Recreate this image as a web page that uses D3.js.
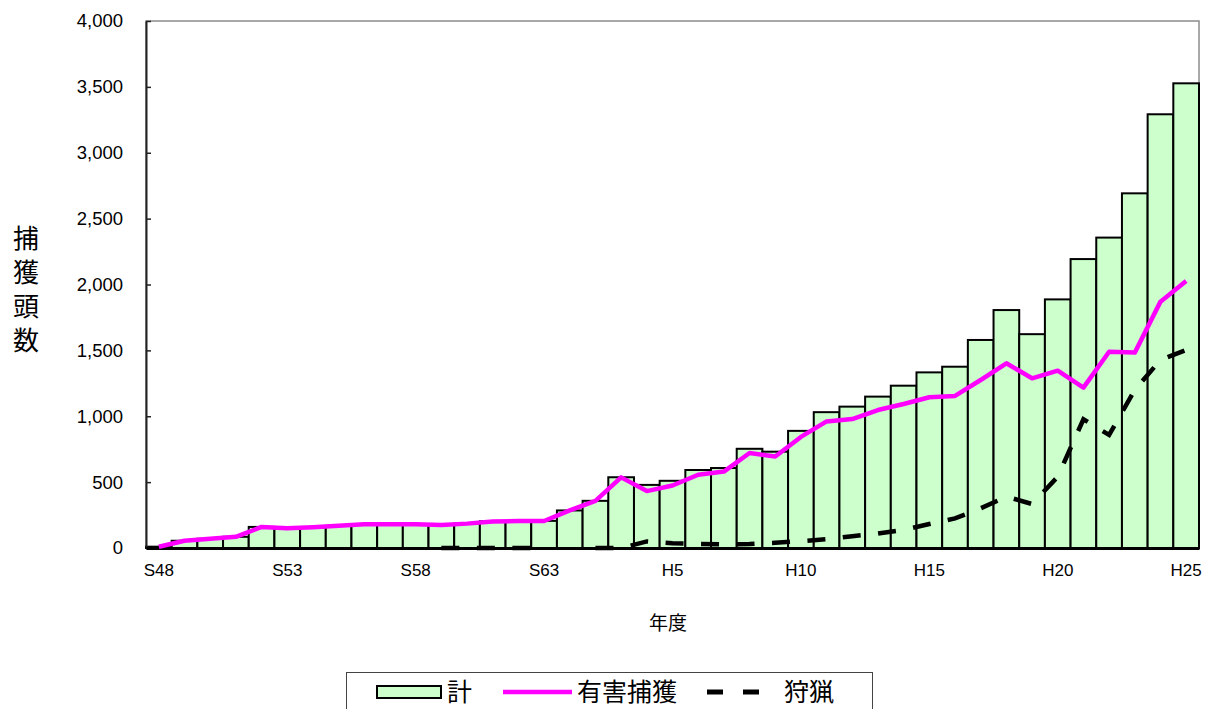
<!DOCTYPE html>
<html>
<head>
<meta charset="utf-8">
<script src="https://cdn.jsdelivr.net/npm/d3@7"></script>
<style>
  html, body { margin: 0; padding: 0; background: #fff; overflow: hidden; }
  svg { display: block; }
</style>
</head>
<body>
<svg id="chart" width="1205" height="709"></svg>
<script>
// Fiscal years, Showa 48 through Heisei 25
const years = [
  "S48","S49","S50","S51","S52","S53","S54","S55","S56","S57","S58","S59","S60","S61","S62","S63",
  "H1","H2","H3","H4","H5","H6","H7","H8","H9","H10","H11","H12","H13","H14","H15","H16","H17",
  "H18","H19","H20","H21","H22","H23","H24","H25"
];

// 計 (total)
const totalCatch = [
  10, 55, 70, 85, 160, 150, 157, 168, 180, 181, 180, 175, 186, 203, 205, 206, 285, 358, 537, 479,
  510, 592, 607, 753, 731, 889, 1031, 1073, 1149, 1232, 1333, 1376, 1579, 1806, 1623, 1887, 2193,
  2356, 2692, 3292, 3527
];

// 有害捕獲 (nuisance control)
const nuisanceCatch = [
  10, 55, 70, 85, 160, 150, 157, 168, 180, 181, 180, 174, 185, 202, 204, 205, 285, 358, 536, 432,
  474, 556, 580, 721, 694, 843, 961, 979, 1047, 1093, 1144, 1154, 1275, 1402, 1288, 1346, 1217,
  1490, 1483, 1870, 2027
];

// 狩猟 (hunting); null = no record
const huntingCatch = [
  null, null, null, null, null, null, null, null, null, null, null,
  0, 0, 0, 0, 0, null, 0, 0, 50,
  36, 31, 28, 30, 40, 52, 67, 90, 110, 137, 182, 225, 301, 390, 334, 541, 977,
  858, 1200, 1427, 1503
];

const tickYears = ["S48", "S53", "S58", "S63", "H5", "H10", "H15", "H20", "H25"];
const yTicks = [0, 500, 1000, 1500, 2000, 2500, 3000, 3500, 4000];

const LATIN = "'Liberation Sans', Arial, sans-serif";
const CJK = "'Noto Sans CJK JP', 'Noto Sans CJK SC', sans-serif";

const svg = d3.select("#chart");

const plot = { left: 146, right: 1199, top: 21, bottom: 548 };

const x = d3.scaleBand()
  .domain(years)
  .range([plot.left, plot.right])
  .paddingInner(0)
  .paddingOuter(0);

const y = d3.scaleLinear()
  .domain([0, 4000])
  .range([plot.bottom, plot.top]);

const cx = d => x(d) + x.bandwidth() / 2;

// plot frame
svg.append("rect")
  .attr("x", plot.left)
  .attr("y", plot.top)
  .attr("width", plot.right - plot.left)
  .attr("height", plot.bottom - plot.top)
  .attr("fill", "none")
  .attr("stroke", "#8c8c8c")
  .attr("stroke-width", 1.5);

// total bars
svg.append("g")
  .selectAll("rect")
  .data(years)
  .join("rect")
  .attr("x", d => x(d))
  .attr("width", x.bandwidth())
  .attr("y", (d, i) => y(totalCatch[i]))
  .attr("height", (d, i) => y(0) - y(totalCatch[i]))
  .attr("fill", "#CCFFCC")
  .attr("stroke", "#000")
  .attr("stroke-width", 2);

// y axis (ticks pointing inward)
const yAxis = svg.append("g")
  .attr("transform", `translate(${plot.left},0)`)
  .call(d3.axisLeft(y)
    .tickValues(yTicks)
    .tickSizeInner(-5)
    .tickSizeOuter(0)
    .tickPadding(23)
    .tickFormat(d3.format(",")));
yAxis.select(".domain").attr("stroke", "#222").attr("stroke-width", 2);
yAxis.selectAll(".tick line").attr("stroke", "#222").attr("stroke-width", 1.5);
yAxis.selectAll("text")
  .attr("font-family", LATIN)
  .attr("font-size", 18.5)
  .attr("fill", "#000");

// x axis
const xAxis = svg.append("g")
  .attr("transform", `translate(0,${plot.bottom})`)
  .call(d3.axisBottom(x)
    .tickValues(tickYears)
    .tickSize(0)
    .tickPadding(16));
xAxis.select(".domain").attr("stroke", "#000").attr("stroke-width", 3);
xAxis.selectAll("text")
  .attr("font-family", LATIN)
  .attr("font-size", 17)
  .attr("fill", "#000");

// hunting (dashed)
const huntLine = d3.line()
  .defined(d => d.v != null)
  .x(d => cx(d.year))
  .y(d => y(d.v));
svg.append("path")
  .datum(years.map((yr, i) => ({ year: yr, v: huntingCatch[i] })))
  .attr("d", huntLine)
  .attr("fill", "none")
  .attr("stroke", "#000")
  .attr("stroke-width", 4.5)
  .attr("stroke-dasharray", "18,17.5");

// nuisance control (magenta)
const nuisLine = d3.line()
  .x(d => cx(d.year))
  .y(d => y(d.v));
svg.append("path")
  .datum(years.map((yr, i) => ({ year: yr, v: nuisanceCatch[i] })))
  .attr("d", nuisLine)
  .attr("fill", "none")
  .attr("stroke", "#FF00FF")
  .attr("stroke-width", 4.5)
  .attr("stroke-linejoin", "round");

// axis titles
const yTitle = ["捕", "獲", "頭", "数"];
svg.append("g")
  .selectAll("text")
  .data(yTitle)
  .join("text")
  .attr("x", 26)
  .attr("y", (d, i) => 248 + i * 34)
  .attr("text-anchor", "middle")
  .attr("font-family", CJK)
  .attr("font-size", 26)
  .attr("fill", "#000")
  .text(d => d);

svg.append("text")
  .attr("x", 668)
  .attr("y", 630)
  .attr("text-anchor", "middle")
  .attr("font-family", CJK)
  .attr("font-size", 19)
  .attr("fill", "#000")
  .text("年度");

// legend
const legend = svg.append("g");
legend.append("rect")
  .attr("x", 346.5).attr("y", 672.5)
  .attr("width", 526).attr("height", 60)
  .attr("fill", "#fff")
  .attr("stroke", "#444")
  .attr("stroke-width", 1);

legend.append("rect")
  .attr("x", 377).attr("y", 686)
  .attr("width", 64).attr("height", 12)
  .attr("fill", "#CCFFCC")
  .attr("stroke", "#000")
  .attr("stroke-width", 2);
legend.append("text")
  .attr("x", 447).attr("y", 701)
  .attr("font-family", CJK).attr("font-size", 25)
  .text("計");

legend.append("line")
  .attr("x1", 503).attr("x2", 572)
  .attr("y1", 692).attr("y2", 692)
  .attr("stroke", "#FF00FF")
  .attr("stroke-width", 4.5);
legend.append("text")
  .attr("x", 577).attr("y", 701)
  .attr("font-family", CJK).attr("font-size", 25)
  .text("有害捕獲");

legend.append("line")
  .attr("x1", 707).attr("x2", 763)
  .attr("y1", 692).attr("y2", 692)
  .attr("stroke", "#000")
  .attr("stroke-width", 5)
  .attr("stroke-dasharray", "16,20");
legend.append("text")
  .attr("x", 784).attr("y", 701)
  .attr("font-family", CJK).attr("font-size", 25)
  .text("狩猟");
</script>
</body>
</html>
